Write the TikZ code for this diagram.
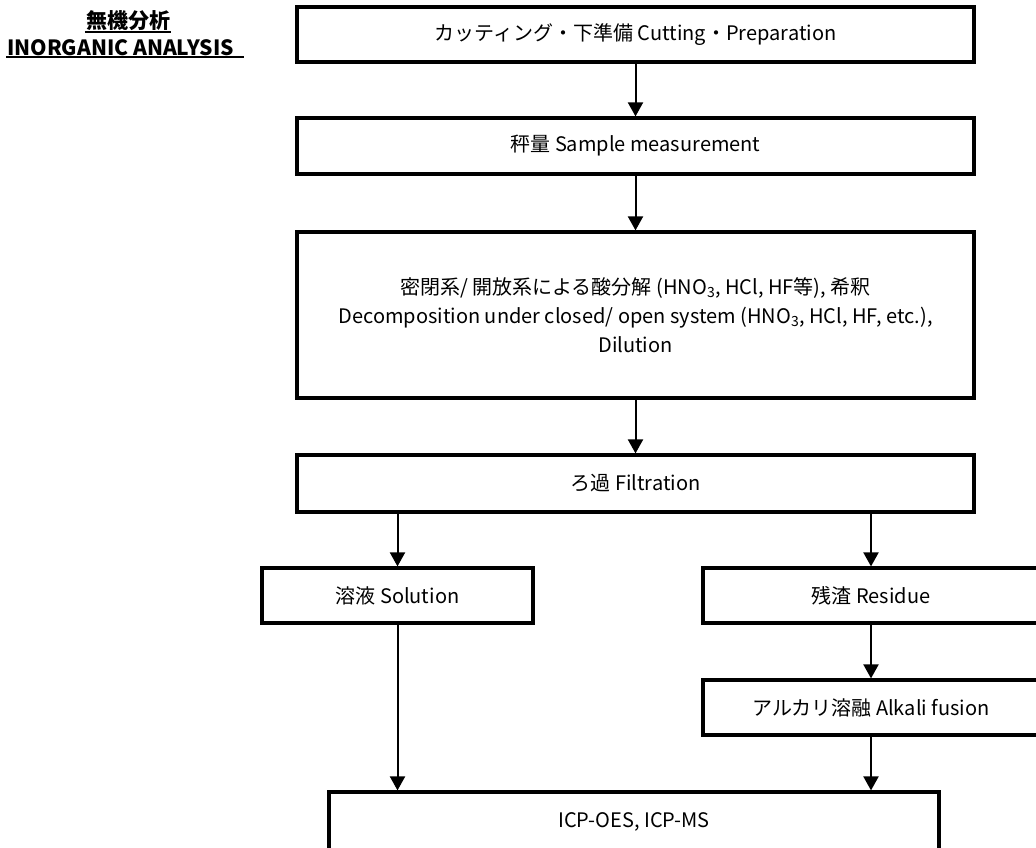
\documentclass[tikz,border=0pt]{standalone}
\usepackage{fontspec}
\setmainfont{Noto Sans CJK JP}
\usetikzlibrary{arrows.meta}

\begin{document}
\begin{tikzpicture}[x=1pt,y=-1pt,
        box/.style={draw, line width=3.2pt, inner sep=0pt, align=center,
            font=\fontsize{20}{29}\selectfont},
        arr/.style={-{Triangle[width=15pt,length=14pt]}, line width=2pt},
        ttlfont/.style={inner sep=1pt, font=\bfseries\fontsize{21}{24}\selectfont}]
    \useasboundingbox (0,0) rectangle (1036,847);
    % title
    \node[ttlfont] (ttl) at (128,21) {無機分析};
    \node[ttlfont, anchor=west] (ttlen) at (6,48) {INORGANIC ANALYSIS};
    \draw[line width=2pt] (ttl.south west)--(ttl.south east);
    \draw[line width=2pt] (ttlen.south west)--([xshift=9pt]ttlen.south east);
    % main column
    \node[box, minimum width=677pt, minimum height=55pt] (cut) at (635.5,34.5)
        {カッティング・下準備 Cutting・Preparation};
    \node[box, minimum width=677pt, minimum height=56pt] (weigh) at (635.5,146)
        {秤量 Sample measurement};
    \node[box, minimum width=677pt, minimum height=166pt] (decomp) at (635.5,315)
        {密閉系/ 開放系による酸分解 (HNO\textsubscript{3}, HCl, HF等), 希釈\\
         Decomposition under closed/ open system (HNO\textsubscript{3}, HCl, HF, etc.),\\
         Dilution};
    \node[box, minimum width=677pt, minimum height=57pt] (filt) at (635.5,483.5)
        {ろ過 Filtration};
    % branches
    \node[box, minimum width=271pt, minimum height=55pt] (sol) at (397.5,595.5)
        {溶液 Solution};
    \node[box, minimum width=336pt, minimum height=55pt] (res) at (871,595.5)
        {残渣 Residue};
    \node[box, minimum width=336pt, minimum height=55pt] (fus) at (871,707.5)
        {アルカリ溶融 Alkali fusion};
    \node[box, minimum width=610pt, minimum height=60pt] (icp) at (634,822)
        {ICP-OES, ICP-MS};
    % arrows
    \draw[arr] (cut)--(weigh);
    \draw[arr] (weigh)--(decomp);
    \draw[arr] (decomp)--(filt);
    \draw[arr] (filt.south -| sol)--(sol);
    \draw[arr] (filt.south -| res)--(res);
    \draw[arr] (res)--(fus);
    \draw[arr] (sol)--(sol |- icp.north);
    \draw[arr] (fus)--(fus |- icp.north);
\end{tikzpicture}
\end{document}
